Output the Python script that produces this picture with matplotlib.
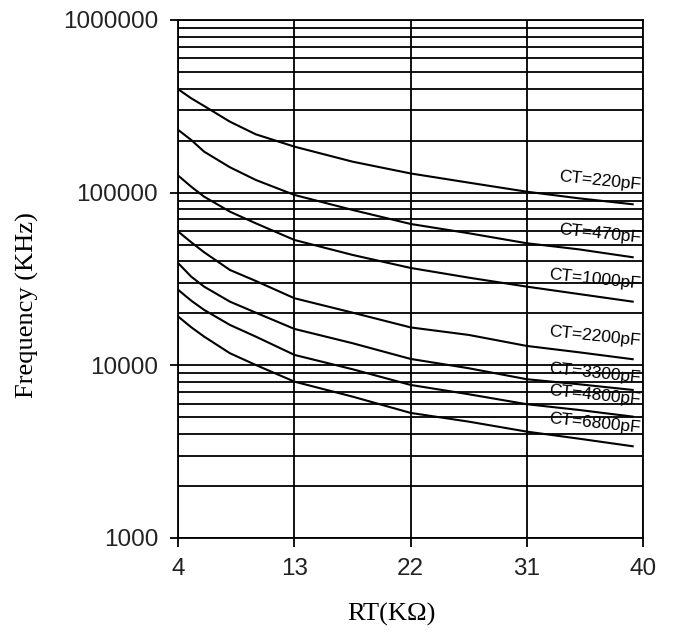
import matplotlib
matplotlib.use("Agg")
import matplotlib.pyplot as plt
from matplotlib.ticker import LogLocator, FixedLocator, FuncFormatter, NullFormatter

# ---- data ----
rt = [4, 5, 6, 8, 10, 13, 17.5, 22, 26.5, 31, 35, 39.2]
ct220 = [396800, 352000, 317700, 257700, 217800, 184700, 151200, 129200, 114300, 101300, 92800, 85660]
ct470 = [230700, 201900, 172800, 140300, 118500, 97000, 79400, 65880, 58210, 50930, 46990, 42270]
ct1000 = [125400, 108300, 94800, 77620, 66470, 53200, 43590, 36640, 32200, 28560, 25900, 23380]
ct2200 = [59450, 51630, 45180, 35670, 30810, 24460, 20190, 16580, 15000, 12950, 11910, 10850]
ct3300 = [39000, 32630, 28560, 23380, 20190, 16250, 13430, 10890, 9620, 8308, 7774, 7204]
ct4800 = [27330, 23690, 20940, 17140, 14670, 11490, 9490, 7700, 6800, 5954, 5520, 5047]
ct6800 = [19140, 16620, 14670, 11750, 10050, 8045, 6588, 5302, 4720, 4131, 3764, 3399]
series = [ct220, ct470, ct1000, ct2200, ct3300, ct4800, ct6800]
labels = ["CT=220pF", "CT=470pF", "CT=1000pF", "CT=2200pF", "CT=3300pF", "CT=4800pF", "CT=6800pF"]
x_ticks = [4, 13, 22, 31, 40]
y_ticks = [1000, 10000, 100000, 1000000]

# ---- style ----
label_factor = [1.29, 1.29, 1.26, 1.27, 1.17, 1.25, 1.28]
lw = 1.3

fig = plt.figure(figsize=(6.74, 6.37), dpi=100)
ax = fig.add_axes([178.3 / 674, 1 - 538 / 637, (643 - 178.3) / 674, 518 / 637])

for vals in series:
    ax.plot(rt, vals, color="black", lw=1.5, solid_joinstyle="round")

ax.set_yscale("log")
ax.set_xlim(4, 40)
ax.set_ylim(1000, 1000000)
ax.xaxis.set_major_locator(FixedLocator(x_ticks))
ax.yaxis.set_major_locator(FixedLocator(y_ticks))
ax.yaxis.set_minor_locator(LogLocator(base=10, subs=[2, 3, 4, 5, 6, 7, 8, 9]))
ax.yaxis.set_major_formatter(FuncFormatter(lambda v, p: f"{int(round(v))}"))
ax.yaxis.set_minor_formatter(NullFormatter())

ax.grid(True, which="both", axis="y", color="black", lw=lw)
ax.grid(True, which="major", axis="x", color="black", lw=lw)
ax.set_axisbelow(False)
for s in ax.spines.values():
    s.set_linewidth(lw)
    s.set_color("black")

ax.tick_params(axis="y", which="major", direction="out", length=6, width=lw, pad=8.5,
               labelsize=17.5, labelcolor="#222222")
ax.tick_params(axis="y", which="minor", length=0)
ax.tick_params(axis="x", which="major", direction="out", length=6.5, width=lw, pad=8,
               labelsize=17.5, labelcolor="#222222")
for t in ax.get_xticklabels() + ax.get_yticklabels():
    t.set_fontfamily("Liberation Sans")

ax.set_xlabel("RT(KΩ)", fontsize=19, fontfamily="Liberation Serif")
ax.xaxis.set_label_coords(0.459, -0.125)
ax.set_ylabel("Frequency (KHz)", fontsize=19, fontfamily="Liberation Serif", va="center")
ax.yaxis.set_label_coords(-0.325, 0.45)

for vals, lab, f in zip(series, labels, label_factor):
    ax.text(39.8, vals[-1] * f, lab, ha="right", va="center", fontsize=12.5,
            fontfamily="Liberation Sans", rotation=-6, rotation_mode="anchor")

fig.savefig("out.png", dpi=100)
